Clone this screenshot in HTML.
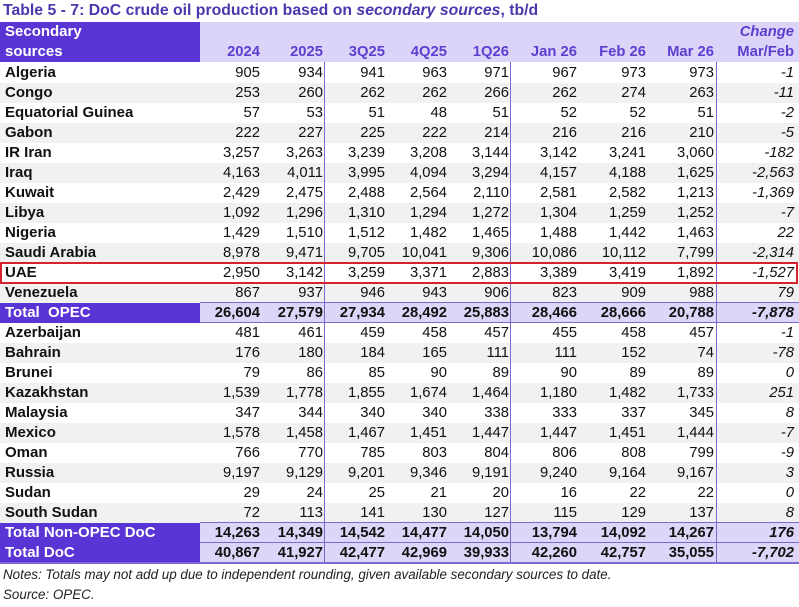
<!DOCTYPE html>
<html><head><meta charset="utf-8">
<style>
*{margin:0;padding:0;box-sizing:border-box}
body{width:799px;height:607px;background:#fff;font-family:"Liberation Sans",Arial,sans-serif;position:relative;overflow:hidden;color:#111}
.title{position:absolute;left:3px;top:2px;font-size:15.8px;font-weight:bold;color:#4a38ad;white-space:nowrap;line-height:18px}
.hdr{position:absolute;left:0;top:22px;width:799px;height:40px;background:#dcd4f8}
.hdrlab{position:absolute;left:0;top:22px;width:200px;height:40px;background:#5a35d6;color:#fff;font-weight:bold;font-size:15px;line-height:20px;padding-left:5px}
.row{position:absolute;left:0;width:799px;height:20px;display:flex;font-size:14.8px;line-height:20px}
.row div{text-align:right;white-space:nowrap}
.row .l{width:200px;text-align:left;padding-left:5px;font-weight:bold;font-size:15px}
.c1{width:62px;padding-right:2px}.c2{width:63px;padding-right:2px}.c3{width:62px;padding-right:2px}
.c4{width:62px;padding-right:2px}.c5{width:62px;padding-right:2px}.c6{width:68px;padding-right:2px}
.c7{width:69px;padding-right:2px}.c8{width:69px;padding-right:3px}.c9{width:82px;padding-right:5px;font-style:italic}
.g{background:#f1f1f1}
.h{color:#5b3fcf;font-weight:bold;font-size:14.8px}
.t{background:#ddd6f8;font-weight:bold}
.t .l{background:#5a35d6;color:#fff;white-space:pre}
.vl{position:absolute;width:1px;background:#7c6ad0;top:62px;height:502px}
.hl{position:absolute;left:200px;width:599px;height:1px;background:#7c6ad0}
.red{position:absolute;left:0;top:262px;width:798px;height:22px;border:2px solid #d3232e}
.note{position:absolute;left:3px;font-size:13.4px;font-style:italic;color:#222;white-space:nowrap}
</style></head><body>
<div class="title">Table 5 - 7: DoC crude oil production based on <i>secondary sources</i>, tb/d</div>
<div class="hdr"></div>
<div class="hdrlab">Secondary<br>sources</div>
<div class="row h" style="top:22px"><div class="l"></div><div class="c1"></div><div class="c2"></div><div class="c3"></div><div class="c4"></div><div class="c5"></div><div class="c6"></div><div class="c7"></div><div class="c8"></div><div class="c9" style="font-style:italic">Change</div></div>
<div class="row h" style="top:42px"><div class="l"></div><div class="c1">2024</div><div class="c2">2025</div><div class="c3">3Q25</div><div class="c4">4Q25</div><div class="c5">1Q26</div><div class="c6">Jan 26</div><div class="c7">Feb 26</div><div class="c8">Mar 26</div><div class="c9" style="font-style:normal">Mar/Feb</div></div>

<div class="row" style="top:63px"><div class="l">Algeria</div><div class="c1">905</div><div class="c2">934</div><div class="c3">941</div><div class="c4">963</div><div class="c5">971</div><div class="c6">967</div><div class="c7">973</div><div class="c8">973</div><div class="c9">-1</div></div>
<div class="row g" style="top:83px"><div class="l">Congo</div><div class="c1">253</div><div class="c2">260</div><div class="c3">262</div><div class="c4">262</div><div class="c5">266</div><div class="c6">262</div><div class="c7">274</div><div class="c8">263</div><div class="c9">-11</div></div>
<div class="row" style="top:103px"><div class="l">Equatorial Guinea</div><div class="c1">57</div><div class="c2">53</div><div class="c3">51</div><div class="c4">48</div><div class="c5">51</div><div class="c6">52</div><div class="c7">52</div><div class="c8">51</div><div class="c9">-2</div></div>
<div class="row g" style="top:123px"><div class="l">Gabon</div><div class="c1">222</div><div class="c2">227</div><div class="c3">225</div><div class="c4">222</div><div class="c5">214</div><div class="c6">216</div><div class="c7">216</div><div class="c8">210</div><div class="c9">-5</div></div>
<div class="row" style="top:143px"><div class="l">IR Iran</div><div class="c1">3,257</div><div class="c2">3,263</div><div class="c3">3,239</div><div class="c4">3,208</div><div class="c5">3,144</div><div class="c6">3,142</div><div class="c7">3,241</div><div class="c8">3,060</div><div class="c9">-182</div></div>
<div class="row g" style="top:163px"><div class="l">Iraq</div><div class="c1">4,163</div><div class="c2">4,011</div><div class="c3">3,995</div><div class="c4">4,094</div><div class="c5">3,294</div><div class="c6">4,157</div><div class="c7">4,188</div><div class="c8">1,625</div><div class="c9">-2,563</div></div>
<div class="row" style="top:183px"><div class="l">Kuwait</div><div class="c1">2,429</div><div class="c2">2,475</div><div class="c3">2,488</div><div class="c4">2,564</div><div class="c5">2,110</div><div class="c6">2,581</div><div class="c7">2,582</div><div class="c8">1,213</div><div class="c9">-1,369</div></div>
<div class="row g" style="top:203px"><div class="l">Libya</div><div class="c1">1,092</div><div class="c2">1,296</div><div class="c3">1,310</div><div class="c4">1,294</div><div class="c5">1,272</div><div class="c6">1,304</div><div class="c7">1,259</div><div class="c8">1,252</div><div class="c9">-7</div></div>
<div class="row" style="top:223px"><div class="l">Nigeria</div><div class="c1">1,429</div><div class="c2">1,510</div><div class="c3">1,512</div><div class="c4">1,482</div><div class="c5">1,465</div><div class="c6">1,488</div><div class="c7">1,442</div><div class="c8">1,463</div><div class="c9">22</div></div>
<div class="row g" style="top:243px"><div class="l">Saudi Arabia</div><div class="c1">8,978</div><div class="c2">9,471</div><div class="c3">9,705</div><div class="c4">10,041</div><div class="c5">9,306</div><div class="c6">10,086</div><div class="c7">10,112</div><div class="c8">7,799</div><div class="c9">-2,314</div></div>
<div class="row" style="top:263px"><div class="l">UAE</div><div class="c1">2,950</div><div class="c2">3,142</div><div class="c3">3,259</div><div class="c4">3,371</div><div class="c5">2,883</div><div class="c6">3,389</div><div class="c7">3,419</div><div class="c8">1,892</div><div class="c9">-1,527</div></div>
<div class="row g" style="top:283px"><div class="l">Venezuela</div><div class="c1">867</div><div class="c2">937</div><div class="c3">946</div><div class="c4">943</div><div class="c5">906</div><div class="c6">823</div><div class="c7">909</div><div class="c8">988</div><div class="c9">79</div></div>
<div class="row t" style="top:303px"><div class="l">Total  OPEC</div><div class="c1">26,604</div><div class="c2">27,579</div><div class="c3">27,934</div><div class="c4">28,492</div><div class="c5">25,883</div><div class="c6">28,466</div><div class="c7">28,666</div><div class="c8">20,788</div><div class="c9">-7,878</div></div>
<div class="row" style="top:323px"><div class="l">Azerbaijan</div><div class="c1">481</div><div class="c2">461</div><div class="c3">459</div><div class="c4">458</div><div class="c5">457</div><div class="c6">455</div><div class="c7">458</div><div class="c8">457</div><div class="c9">-1</div></div>
<div class="row g" style="top:343px"><div class="l">Bahrain</div><div class="c1">176</div><div class="c2">180</div><div class="c3">184</div><div class="c4">165</div><div class="c5">111</div><div class="c6">111</div><div class="c7">152</div><div class="c8">74</div><div class="c9">-78</div></div>
<div class="row" style="top:363px"><div class="l">Brunei</div><div class="c1">79</div><div class="c2">86</div><div class="c3">85</div><div class="c4">90</div><div class="c5">89</div><div class="c6">90</div><div class="c7">89</div><div class="c8">89</div><div class="c9">0</div></div>
<div class="row g" style="top:383px"><div class="l">Kazakhstan</div><div class="c1">1,539</div><div class="c2">1,778</div><div class="c3">1,855</div><div class="c4">1,674</div><div class="c5">1,464</div><div class="c6">1,180</div><div class="c7">1,482</div><div class="c8">1,733</div><div class="c9">251</div></div>
<div class="row" style="top:403px"><div class="l">Malaysia</div><div class="c1">347</div><div class="c2">344</div><div class="c3">340</div><div class="c4">340</div><div class="c5">338</div><div class="c6">333</div><div class="c7">337</div><div class="c8">345</div><div class="c9">8</div></div>
<div class="row g" style="top:423px"><div class="l">Mexico</div><div class="c1">1,578</div><div class="c2">1,458</div><div class="c3">1,467</div><div class="c4">1,451</div><div class="c5">1,447</div><div class="c6">1,447</div><div class="c7">1,451</div><div class="c8">1,444</div><div class="c9">-7</div></div>
<div class="row" style="top:443px"><div class="l">Oman</div><div class="c1">766</div><div class="c2">770</div><div class="c3">785</div><div class="c4">803</div><div class="c5">804</div><div class="c6">806</div><div class="c7">808</div><div class="c8">799</div><div class="c9">-9</div></div>
<div class="row g" style="top:463px"><div class="l">Russia</div><div class="c1">9,197</div><div class="c2">9,129</div><div class="c3">9,201</div><div class="c4">9,346</div><div class="c5">9,191</div><div class="c6">9,240</div><div class="c7">9,164</div><div class="c8">9,167</div><div class="c9">3</div></div>
<div class="row" style="top:483px"><div class="l">Sudan</div><div class="c1">29</div><div class="c2">24</div><div class="c3">25</div><div class="c4">21</div><div class="c5">20</div><div class="c6">16</div><div class="c7">22</div><div class="c8">22</div><div class="c9">0</div></div>
<div class="row g" style="top:503px"><div class="l">South Sudan</div><div class="c1">72</div><div class="c2">113</div><div class="c3">141</div><div class="c4">130</div><div class="c5">127</div><div class="c6">115</div><div class="c7">129</div><div class="c8">137</div><div class="c9">8</div></div>
<div class="row t" style="top:523px"><div class="l">Total Non-OPEC DoC</div><div class="c1">14,263</div><div class="c2">14,349</div><div class="c3">14,542</div><div class="c4">14,477</div><div class="c5">14,050</div><div class="c6">13,794</div><div class="c7">14,092</div><div class="c8">14,267</div><div class="c9">176</div></div>
<div class="row t" style="top:543px"><div class="l">Total DoC</div><div class="c1">40,867</div><div class="c2">41,927</div><div class="c3">42,477</div><div class="c4">42,969</div><div class="c5">39,933</div><div class="c6">42,260</div><div class="c7">42,757</div><div class="c8">35,055</div><div class="c9">-7,702</div></div>

<div class="vl" style="left:324px"></div>
<div class="vl" style="left:510px"></div>
<div class="vl" style="left:716px"></div>
<div class="hl" style="top:302px"></div>
<div class="hl" style="top:322px"></div>
<div class="hl" style="top:522px"></div>
<div class="hl" style="top:542px"></div>
<div class="hl" style="top:562px;height:2px;left:0;width:799px"></div>
<div class="red"></div>
<div class="note" style="top:567px">Notes: Totals may not add up due to independent rounding, given available secondary sources to date.</div>
<div class="note" style="top:587px">Source: OPEC.</div>
</body></html>
